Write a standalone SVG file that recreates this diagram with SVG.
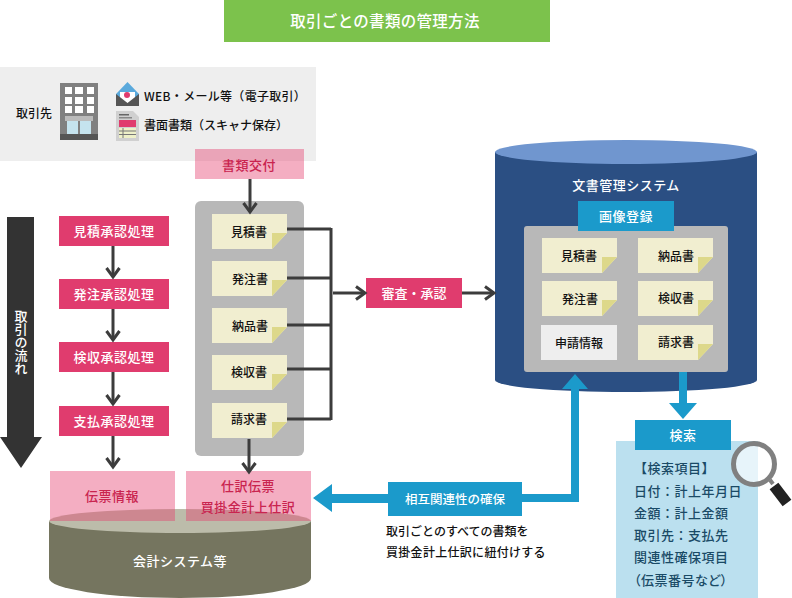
<svg xmlns="http://www.w3.org/2000/svg" xmlns:xlink="http://www.w3.org/1999/xlink" width="792" height="598" viewBox="0 0 792 598">
<style>
text{font-family:"Noto Sans CJK JP","Noto Sans CJK SC",sans-serif;dominant-baseline:central;font-size:13px;font-weight:500;transform:translateY(-1px)}
.c{text-anchor:middle}
.w{fill:#fff}
.k{fill:#111}
.p{fill:#c9244f}
.sp{letter-spacing:.5px}
.n{font-size:12px;text-anchor:middle;fill:#111}
.red{fill:#e03c6e}
.pink{fill:#e43e6e;opacity:.42}
.blue{fill:#1b9acb}
.ln{fill:none;stroke:#3c3c3c;stroke-width:3}
.s{fill:#1a4a66;letter-spacing:.5px}
</style>
<defs>
<g id="note"><polygon points="0,0 75,0 75,19 60,35 0,35" fill="#f1eed0"/><polygon points="60,19 75,19 60,35" fill="#ddd88a"/></g>
<marker id="chev" markerUnits="userSpaceOnUse" markerWidth="14" markerHeight="16" refX="11" refY="8" orient="auto"><path d="M2 1.5L11 8L2 14.5" fill="none" stroke="#3c3c3c" stroke-width="3"/></marker>
</defs>
<rect width="792" height="598" fill="#fff"/>
<g id="title"><rect x="224" y="0" width="326" height="42" fill="#7cc24c"/><text class="c w" x="385" y="21" style="font-size:15.500px;letter-spacing:.3px">取引ごとの書類の管理方法</text></g>
<g id="partner">
<rect x="0" y="67" width="316" height="94" fill="#eee"/>
<text class="k" x="16" y="113" style="font-size:12px">取引先</text>
<g id="building"><rect x="60" y="83" width="38" height="57" fill="#808080"/><g fill="#fff"><rect x="65" y="87" width="7" height="7"/><rect x="75" y="87" width="8" height="7"/><rect x="87" y="87" width="7" height="7"/><rect x="65" y="97" width="7" height="7"/><rect x="75" y="97" width="8" height="7"/><rect x="87" y="97" width="7" height="7"/><rect x="65" y="106" width="7" height="7"/><rect x="75" y="106" width="8" height="7"/><rect x="87" y="106" width="7" height="7"/></g><rect x="65" y="116" width="28" height="5" fill="#bbb"/><rect x="67" y="121" width="11" height="13" fill="#c5e3ee"/><rect x="80" y="121" width="11" height="13" fill="#c5e3ee"/><rect x="60" y="134" width="38" height="6" fill="#555"/></g>
<g id="mail"><polygon points="116,94 127.500,82 139,94 139,106 116,106" fill="#5aa9dc"/><polygon points="120,92 135,92 135,103 120,103" fill="#fff"/><circle cx="127" cy="95" r="3" fill="#e03c6e"/><polygon points="116,94 127.500,103 139,94 139,106 116,106" fill="#555"/></g>
<g id="paper"><polygon points="116,111 133,111 139,117 139,141 116,141" fill="#d0d0d0"/><rect x="119" y="114" width="10" height="1.500" fill="#666"/><rect x="119" y="117" width="13" height="1.500" fill="#888"/><rect x="119" y="120" width="17" height="7" fill="#e03c6e"/><rect x="119" y="128" width="17" height="10" fill="#eef0c8"/><path d="M119 131H136M119 134.500H136M123 128V138" stroke="#777" stroke-width="1"/></g>
<text class="k" x="144" y="96" style="font-size:12px;letter-spacing:.3px">WEB・メール等（電子取引）</text>
<text class="k" x="144" y="125" style="font-size:12px">書面書類（スキャナ保存）</text>
</g>
<g id="flow-arrow"><polygon points="7,217 34,217 34,437 42,437 21,468 0,437 7,437" fill="#333"/><text class="w" x="21" y="342" text-anchor="middle" style="writing-mode:vertical-rl;font-size:13px;dominant-baseline:auto;transform:none">取引の流れ</text></g>
<g id="accounting-system"><path d="M49 521V578A131 20 0 0 0 311 578V521Z" fill="#75755f"/><ellipse cx="180" cy="521" rx="131" ry="12" fill="#bcbcaa"/><text class="c w sp" x="180" y="561">会計システム等</text></g>
<g id="docmgmt-system"><path d="M495 152V380A131 12 0 0 0 757 380V152Z" fill="#2b4f83"/><ellipse cx="626" cy="152" rx="131" ry="12" fill="#7096cf"/><text class="c w sp" x="626" y="185">文書管理システム</text></g>
<g id="doc-source"><rect class="pink" x="195" y="149" width="109" height="30"/><text class="c p sp" x="249" y="165">書類交付</text></g>
<g id="doc-stack"><rect x="195" y="201" width="109" height="255" rx="6" fill="#b8b8b8"/>
<use xlink:href="#note" href="#note" x="212" y="214"/><text class="n" x="249" y="232">見積書</text>
<use xlink:href="#note" href="#note" x="212" y="261"/><text class="n" x="250" y="279">発注書</text>
<use xlink:href="#note" href="#note" x="212" y="308"/><text class="n" x="250" y="326">納品書</text>
<use xlink:href="#note" href="#note" x="212" y="355"/><text class="n" x="249" y="372">検収書</text>
<use xlink:href="#note" href="#note" x="212" y="403"/><text class="n" x="249" y="419">請求書</text>
</g>
<g id="step-1"><rect class="red" x="59" y="216" width="110" height="30"/><text class="c w sp" x="114" y="231">見積承認処理</text></g>
<g id="step-2"><rect class="red" x="59" y="279" width="110" height="30"/><text class="c w sp" x="114" y="294">発注承認処理</text></g>
<g id="step-3"><rect class="red" x="59" y="342" width="110" height="30"/><text class="c w sp" x="114" y="357">検収承認処理</text></g>
<g id="step-4"><rect class="red" x="59" y="406" width="110" height="30"/><text class="c w sp" x="114" y="421">支払承認処理</text></g>
<g id="slip-info"><rect class="pink" x="50" y="471" width="125" height="50"/><text class="c p sp" x="112" y="496">伝票情報</text></g>
<g id="journal"><rect class="pink" x="186" y="471" width="125" height="50"/><text class="c p sp" x="248" y="486">仕訳伝票</text><text class="c p sp" x="248" y="507">買掛金計上仕訳</text></g>
<g id="review"><rect class="red" x="366" y="278" width="96" height="30"/><text class="c w" x="414" y="293">審査・承認</text></g>
<g id="image-register">
<rect x="524" y="226" width="204" height="146" rx="3" fill="#b8b8b8"/>
<rect class="blue" x="578" y="201" width="96" height="30"/><text class="c w sp" x="626" y="216">画像登録</text>
<use xlink:href="#note" href="#note" x="542" y="238"/><text class="n" x="579" y="256">見積書</text>
<use xlink:href="#note" href="#note" x="542" y="281"/><text class="n" x="580" y="299">発注書</text>
<rect x="541" y="325" width="76" height="35" fill="#eee"/><text class="n" x="579" y="343">申請情報</text>
<use xlink:href="#note" href="#note" x="638" y="238"/><text class="n" x="676" y="256">納品書</text>
<use xlink:href="#note" href="#note" x="638" y="281"/><text class="n" x="676" y="298">検収書</text>
<use xlink:href="#note" href="#note" x="638" y="325"/><text class="n" x="676" y="342">請求書</text>
</g>
<g id="search">
<rect x="616" y="441" width="142" height="157" fill="#bbe0ef"/>
<rect class="blue" x="635" y="420" width="96" height="30"/><text class="c w sp" x="683" y="435">検索</text>
<text class="s" x="634" y="468">【検索項目】</text>
<text class="s" x="634" y="491">日付：計上年月日</text>
<text class="s" x="634" y="513">金額：計上金額</text>
<text class="s" x="634" y="535">取引先：支払先</text>
<text class="s" x="634" y="557">関連性確保項目</text>
<text class="s" x="634" y="580" style="font-feature-settings:'palt'">（伝票番号など）</text>
<g id="magnifier"><circle cx="754" cy="464" r="20.500" fill="#fff" fill-opacity=".65" stroke="#808080" stroke-width="5"/><line x1="770" y1="480" x2="773" y2="484" stroke="#808080" stroke-width="4"/><line x1="774" y1="486" x2="787" y2="503" stroke="#222" stroke-width="11"/></g>
</g>
<g id="mutual-link"><rect class="blue" x="388" y="482" width="134" height="34"/><text class="c w" x="455" y="499" style="font-size:12.500px">相互関連性の確保</text></g>
<g id="note-text"><text class="k" x="386" y="531" style="font-size:12px">取引ごとのすべての書類を</text><text class="k" x="386" y="552" style="font-size:12px;letter-spacing:.3px">買掛金計上仕訳に紐付けする</text></g>
<g id="connectors">
<path class="ln" d="M250 179V212" marker-end="url(#chev)"/>
<path class="ln" d="M113 246V277" marker-end="url(#chev)"/>
<path class="ln" d="M113 309V340" marker-end="url(#chev)"/>
<path class="ln" d="M113 372V404" marker-end="url(#chev)"/>
<path class="ln" d="M113 436V467" marker-end="url(#chev)"/>
<path class="ln" d="M249 439V472" marker-end="url(#chev)"/>
<path class="ln" d="M287 229H331M287 278H331M287 325H331M287 369H331M287 419H331M331 228V420"/>
<path class="ln" d="M333 293H365" stroke-width="2.500" marker-end="url(#chev)"/>
<path class="ln" d="M462 293H494" stroke-width="2.500" marker-end="url(#chev)"/>
<polygon class="blue" points="575,374 588,389 579,389 579,502 522,502 522,494 571,494 571,389 562,389"/>
<polygon class="blue" points="313,498 332,484 332,494 388,494 388,503 332,503 332,512"/>
<polygon class="blue" points="679,372 687,372 687,403 697,403 683,419 669,403 679,403"/>
</g>
</svg>
